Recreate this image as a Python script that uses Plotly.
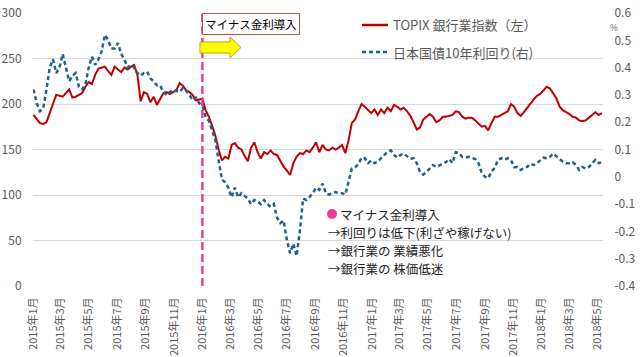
import pandas as pd
import plotly.graph_objects as go

# ---- data (weekly readings, left: TOPIX banks index, right: JGB 10y yield %) ----
start_date = "2015-01-02"
n_weeks = 176

topix_banks = [
    188, 183, 179, 178, 180, 190, 199, 210, 209, 208,
    212, 216, 207, 208, 210, 212, 219, 224, 222, 232,
    239, 240, 241, 236, 232, 241, 238, 235, 240, 238,
    241, 243, 232, 203, 213, 211, 202, 208, 199, 205,
    212, 213, 211, 213, 215, 223, 220, 215, 213, 210,
    204, 205, 206, 193, 186, 176, 165, 150, 138, 142,
    140, 155, 157, 152, 150, 143, 137, 152, 158, 147,
    140, 147, 145, 149, 145, 144, 137, 131, 127, 122,
    135, 142, 146, 145, 149, 147, 152, 158, 147, 155,
    150, 149, 152, 150, 152, 155, 146, 160, 179, 183,
    192, 200, 197, 194, 190, 194, 188, 194, 190, 196,
    192, 199, 197, 194, 196, 192, 187, 180, 172, 174,
    183, 186, 189, 186, 180, 182, 186, 186, 187, 188,
    192, 191, 186, 184, 185, 185, 182, 178, 175, 176,
    171, 179, 186, 186, 188, 190, 192, 200, 197, 190,
    187, 191, 196, 200, 205, 209, 211, 215, 219, 217,
    212, 206, 197, 193, 191, 189, 186, 185, 182, 181,
    182, 185, 188, 191, 188, 190,
]

jgb10y = [
    0.32, 0.27, 0.24, 0.25, 0.32, 0.40, 0.43, 0.38, 0.40, 0.45,
    0.40, 0.35, 0.37, 0.38, 0.33, 0.32, 0.34, 0.40, 0.44, 0.41,
    0.43, 0.46, 0.52, 0.50, 0.47, 0.47, 0.49, 0.45, 0.43, 0.40,
    0.41, 0.40, 0.38, 0.37, 0.38, 0.385, 0.36, 0.35, 0.335, 0.335,
    0.31, 0.30, 0.31, 0.32, 0.315, 0.31, 0.325, 0.315, 0.30, 0.28,
    0.29, 0.27, 0.26, 0.22, 0.205, 0.17, 0.135, 0.06, -0.01, -0.02,
    -0.04, -0.075, -0.04, -0.075, -0.06, -0.07, -0.08, -0.10, -0.085, -0.09,
    -0.10, -0.085, -0.10, -0.11, -0.10, -0.15, -0.17, -0.16, -0.23, -0.28,
    -0.245, -0.29, -0.20, -0.08, -0.085, -0.074, -0.06, -0.04, -0.048, -0.025,
    -0.06, -0.065, -0.06, -0.056, -0.06, -0.06, -0.065, -0.02, 0.03, 0.035,
    0.045, 0.07, 0.068, 0.05, 0.06, 0.05, 0.055, 0.068, 0.08, 0.092,
    0.097, 0.08, 0.07, 0.08, 0.085, 0.075, 0.066, 0.068, 0.05, 0.018,
    0.008, 0.018, 0.032, 0.043, 0.036, 0.043, 0.05, 0.054, 0.065, 0.05,
    0.09, 0.087, 0.073, 0.07, 0.073, 0.068, 0.065, 0.05, 0.014, 0.0,
    -0.005, 0.02, 0.032, 0.062, 0.068, 0.062, 0.068, 0.062, 0.035, 0.036,
    0.025, 0.032, 0.036, 0.048, 0.043, 0.05, 0.06, 0.07, 0.068, 0.073,
    0.085, 0.075, 0.065, 0.055, 0.05, 0.05, 0.054, 0.043, 0.025, 0.036,
    0.03, 0.036, 0.05, 0.062, 0.05, 0.054,
]

series_names = ["TOPIX 銀行業指数（左）", "日本国債10年利回り(右)"]

x_tick_dates = pd.date_range("2015-01-01", "2018-05-01", freq="2MS")
x_tick_labels = [f"{d.year}年{d.month}月" for d in x_tick_dates]

y_left_ticks = [0, 50, 100, 150, 200, 250, 300]
y_right_ticks = [-0.4, -0.3, -0.2, -0.1, 0, 0.1, 0.2, 0.3, 0.4, 0.5, 0.6]
y_right_labels = ["-0.4", "-0.3", "-0.2", "-0.1", "0", "0.1", "0.2", "0.3", "0.4", "0.5", "0.6"]

event_date = "2016-01-01"
event_label = "マイナス金利導入"
note_lines = ["マイナス金利導入", "→利回りは低下(利ざや稼げない)", "→銀行業の 業績悪化", "→銀行業の 株価低迷"]

dates = pd.date_range(start_date, periods=n_weeks, freq="7D")

RED = "#C00000"
BLUE = "#1F5F8B"
PINK = "#EE3A97"
GRID = "#D9D9D9"
TICK = "#595959"
FONT = "Noto Sans CJK JP"

fig = go.Figure()
fig.add_trace(go.Scatter(x=dates, y=topix_banks, name=series_names[0], mode="lines",
                         line=dict(color=RED, width=2), yaxis="y", showlegend=False))
fig.add_trace(go.Scatter(x=dates, y=jgb10y, name=series_names[1], mode="lines",
                         line=dict(color=BLUE, width=2.5, dash="4px,3px"), yaxis="y2", showlegend=False))

# plot area geometry (pixels)
L, R, T, B = 33, 603, 13, 286
W, H = 640, 357
PW, PH = R - L, B - T


def px(x):
    return (x - L) / PW


def py(y):
    return (B - y) / PH


shapes = []
annotations = []

# event vertical dashed line
shapes.append(dict(type="line", xref="x", yref="paper", x0=event_date, x1=event_date, y0=0, y1=1,
                   line=dict(color=PINK, width=2.5, dash="8px,4px")))

# yellow arrow
arrow_pts = [(200, 42), (230, 42), (230, 37), (241, 47.5), (230, 58), (230, 53), (200, 53)]
path = "M " + " L ".join(f"{px(a):.5f},{py(b):.5f}" for a, b in arrow_pts) + " Z"
shapes.append(dict(type="path", xref="paper", yref="paper", path=path,
                   fillcolor="#FFFF00", line=dict(color="#BFA000", width=1)))

# event label box
annotations.append(dict(x=px(251), y=py(24), xref="paper", yref="paper", text=event_label,
                        showarrow=False, font=dict(family=FONT, size=11.5, color="#000000"),
                        bgcolor="#FFFFFF", bordercolor="#C0504D", borderwidth=1, borderpad=2,
                        xanchor="center", yanchor="middle"))

# custom legend
shapes.append(dict(type="line", xref="paper", yref="paper", x0=px(362), x1=px(388), y0=py(25), y1=py(25),
                   line=dict(color=RED, width=2.5)))
shapes.append(dict(type="line", xref="paper", yref="paper", x0=px(362), x1=px(388), y0=py(52), y1=py(52),
                   line=dict(color=BLUE, width=2.5, dash="4px,3px")))
for name, yy in zip(series_names, [25, 52]):
    annotations.append(dict(x=px(391), y=py(yy), xref="paper", yref="paper", text=name, showarrow=False,
                            font=dict(family=FONT, size=13, color=TICK), xanchor="left", yanchor="middle"))

# % unit
annotations.append(dict(x=px(608), y=py(26.5), xref="paper", yref="paper", text="%", showarrow=False,
                        font=dict(family=FONT, size=8.5, color=TICK), xanchor="left", yanchor="middle"))

# note block
shapes.append(dict(type="circle", xref="paper", yref="paper", x0=px(327), x1=px(337), y0=py(219), y1=py(209),
                   fillcolor=PINK, line=dict(color=PINK, width=0)))
note_x = [338, 326, 326, 326]
note_y = [214, 232, 250, 268]
for t, xx, yy in zip(note_lines, note_x, note_y):
    annotations.append(dict(x=px(xx), y=py(yy), xref="paper", yref="paper", text=t, showarrow=False,
                            font=dict(family=FONT, size=12.5, color="#222222"), xanchor="left", yanchor="middle"))

fig.update_layout(
    width=W, height=H,
    margin=dict(l=L, r=W - R, t=T, b=H - B, pad=0, autoexpand=False),
    paper_bgcolor="#FFFFFF", plot_bgcolor="#FFFFFF",
    font=dict(family=FONT, size=12, color=TICK),
    shapes=shapes, annotations=annotations,
    xaxis=dict(type="date", range=["2015-01-01 00:00", "2018-05-13 08:00"], automargin=False,
               tickvals=list(x_tick_dates), ticktext=x_tick_labels, tickangle=-90,
               tickfont=dict(family=FONT, size=11, color=TICK), showgrid=False, zeroline=False,
               showline=False, ticks="outside", ticklen=6, tickcolor="rgba(0,0,0,0)"),
    yaxis=dict(range=[0, 300], tickvals=y_left_ticks, showgrid=True, gridcolor=GRID, gridwidth=1,
               zeroline=False, showline=False, tickfont=dict(family=FONT, size=12, color=TICK),
               ticks="outside", ticklen=8, tickcolor="rgba(0,0,0,0)", automargin=False),
    yaxis2=dict(range=[-0.4, 0.6], overlaying="y", side="right", tickvals=y_right_ticks,
                ticktext=y_right_labels, showgrid=False, zeroline=False, showline=False,
                tickfont=dict(family=FONT, size=12, color=TICK),
                ticks="outside", ticklen=8, tickcolor="rgba(0,0,0,0)", automargin=False),
    showlegend=False,
)

fig.write_html("out.html", config={"displayModeBar": False},
               post_script="document.body.style.margin='0';")
